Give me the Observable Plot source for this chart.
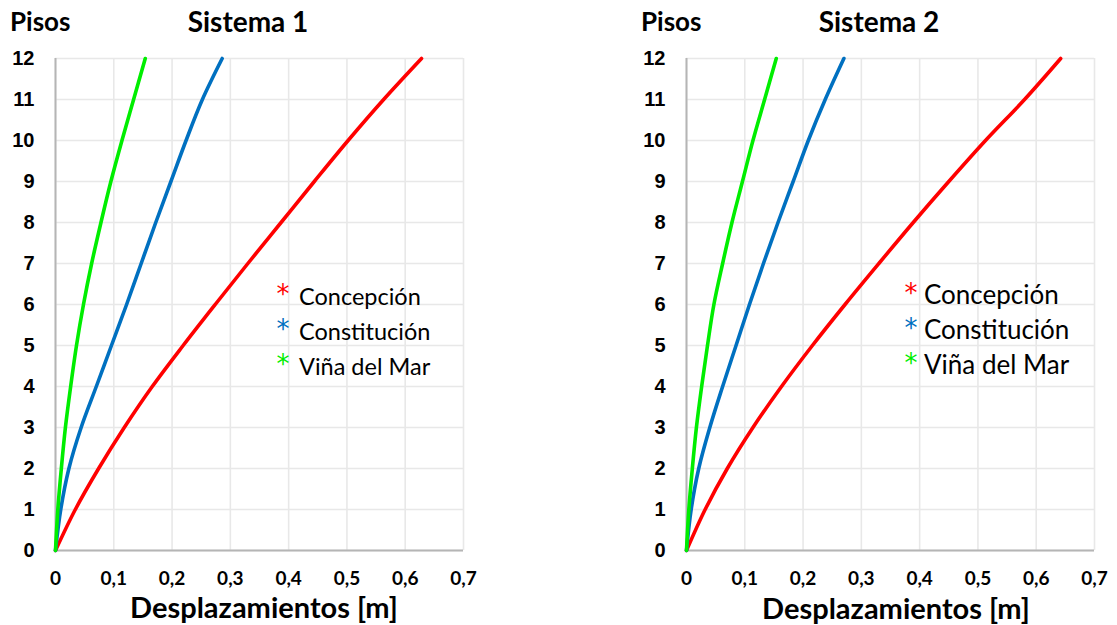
<!DOCTYPE html>
<html>
<head>
<meta charset="utf-8">
<script src="https://cdn.jsdelivr.net/npm/d3@7"></script>
<script src="https://cdn.jsdelivr.net/npm/@observablehq/plot@0.6"></script>
<style>
  html, body { margin: 0; padding: 0; background: #fff; }
  #root { position: relative; width: 1117px; height: 625px; overflow: hidden; }
  .panel { position: absolute; top: 0; }
  .txt { position: absolute; white-space: nowrap; color: #000; }
  .pisos { font-family: Lato, "Open Sans", sans-serif; font-weight: bold; font-size: 26px; }
  .title { font-family: Lato, "Open Sans", sans-serif; font-weight: bold; font-size: 28px; transform: translateX(-50%); }
  .xlabel { font-family: Lato, "Open Sans", sans-serif; font-weight: bold; font-size: 29px; line-height: 1.1; transform: translateX(-50%); }
  .leg { font-family: Lato, "Open Sans", sans-serif; }
  .star { font-family: "DejaVu Sans", sans-serif; font-size: 26px; line-height: 1; transform: translateX(-50%); }
</style>
</head>
<body>
<div id="root"></div>
<script>
const pisos = [0, 1, 2, 3, 4, 5, 6, 7, 8, 9, 10, 11, 12];
const series = ["Concepción", "Constitución", "Viña del Mar"];
const colors = ["#ff0000", "#0070c0", "#00ee00"];

const s1_concepcion   = [0, 0.034, 0.074, 0.118, 0.166, 0.219, 0.274, 0.330, 0.387, 0.444, 0.502, 0.563, 0.628];
const s1_constitucion = [0, 0.009, 0.023, 0.044, 0.070, 0.096, 0.122, 0.147, 0.172, 0.198, 0.224, 0.252, 0.286];
const s1_vina         = [0, 0.004, 0.010, 0.017, 0.026, 0.036, 0.048, 0.062, 0.078, 0.095, 0.114, 0.134, 0.154];

const s2_concepcion   = [0, 0.032, 0.070, 0.114, 0.163, 0.216, 0.272, 0.330, 0.389, 0.450, 0.513, 0.580, 0.642];
const s2_constitucion = [0, 0.008, 0.021, 0.040, 0.062, 0.085, 0.108, 0.132, 0.157, 0.183, 0.209, 0.238, 0.270];
const s2_vina         = [0, 0.004, 0.010, 0.017, 0.026, 0.036, 0.047, 0.062, 0.078, 0.096, 0.114, 0.134, 0.154];

const xTicks = [0, 0.1, 0.2, 0.3, 0.4, 0.5, 0.6, 0.7];
const xTickLabels = ["0", "0,1", "0,2", "0,3", "0,4", "0,5", "0,6", "0,7"];
const yTicks = pisos;

const panels = [
  {title: "Sistema 1", data: [s1_concepcion, s1_constitucion, s1_vina], left: 0,
   pisosX: 10, titleX: 248, xlabelX: 264, xlabelY: 591,
   starX: 283, starY: 281, legX: 299, legY: 282, legSize: 23.5},
  {title: "Sistema 2", data: [s2_concepcion, s2_constitucion, s2_vina], left: 631,
   pisosX: 641, titleX: 879, xlabelX: 896, xlabelY: 592,
   starX: 911, starY: 280, legX: 924, legY: 278, legSize: 26}
];

const root = document.getElementById("root");

function addText(cls, text, x, y) {
  const d = document.createElement("div");
  d.className = "txt " + cls;
  d.style.left = x + "px";
  d.style.top = y + "px";
  d.textContent = text;
  root.appendChild(d);
  return d;
}

for (const p of panels) {
  const rows = [];
  p.data.forEach((arr, i) => arr.forEach((v, j) => rows.push({serie: series[i], x: v, piso: pisos[j]})));

  const chart = Plot.plot({
    width: 480,
    height: 625,
    marginLeft: 55,
    marginRight: 17,
    marginTop: 58,
    marginBottom: 75,
    style: {background: "transparent", overflow: "visible"},
    x: {domain: [0, 0.7], ticks: xTicks},
    y: {domain: [0, 12], ticks: yTicks},
    color: {domain: series, range: colors},
    marks: [
      Plot.gridX(xTicks, {stroke: "#e8e8e8", strokeOpacity: 1, strokeWidth: 1.6}),
      Plot.gridY(yTicks, {stroke: "#e8e8e8", strokeOpacity: 1, strokeWidth: 1.6}),
      Plot.ruleX([0], {stroke: "#b5b5b5", strokeWidth: 2}),
      Plot.ruleY([0], {stroke: "#b5b5b5", strokeWidth: 2}),
      Plot.axisY(yTicks, {tickSize: 0, tickPadding: 21, fontSize: 20, fontWeight: "bold",
        fontFamily: "'Liberation Sans', Arial, sans-serif", fill: "#000", label: null}),
      Plot.axisX(xTicks, {tickSize: 0, tickPadding: 21, fontSize: 19, fontWeight: "bold",
        fontFamily: "Lato, 'Open Sans', sans-serif", fill: "#000", label: null,
        tickFormat: (d, i) => xTickLabels[i]}),
      Plot.line(rows, {x: "x", y: "piso", z: "serie", stroke: "serie", strokeWidth: 3.6,
        curve: "catmull-rom", sort: {channel: "y"}})
    ]
  });
  chart.classList.add("panel");
  chart.style.left = p.left + "px";
  root.appendChild(chart);

  addText("pisos", "Pisos", p.pisosX, 5);
  addText("title", p.title, p.titleX, 4);
  addText("xlabel", "Desplazamientos [m]", p.xlabelX, p.xlabelY);

  series.forEach((s, i) => {
    const st = addText("star", "*", p.starX, p.starY + i * 35);
    st.style.color = colors[i];
    const t = addText("leg", s, p.legX, p.legY + i * 35);
    t.style.fontSize = p.legSize + "px";
  });
}
</script>
</body>
</html>
